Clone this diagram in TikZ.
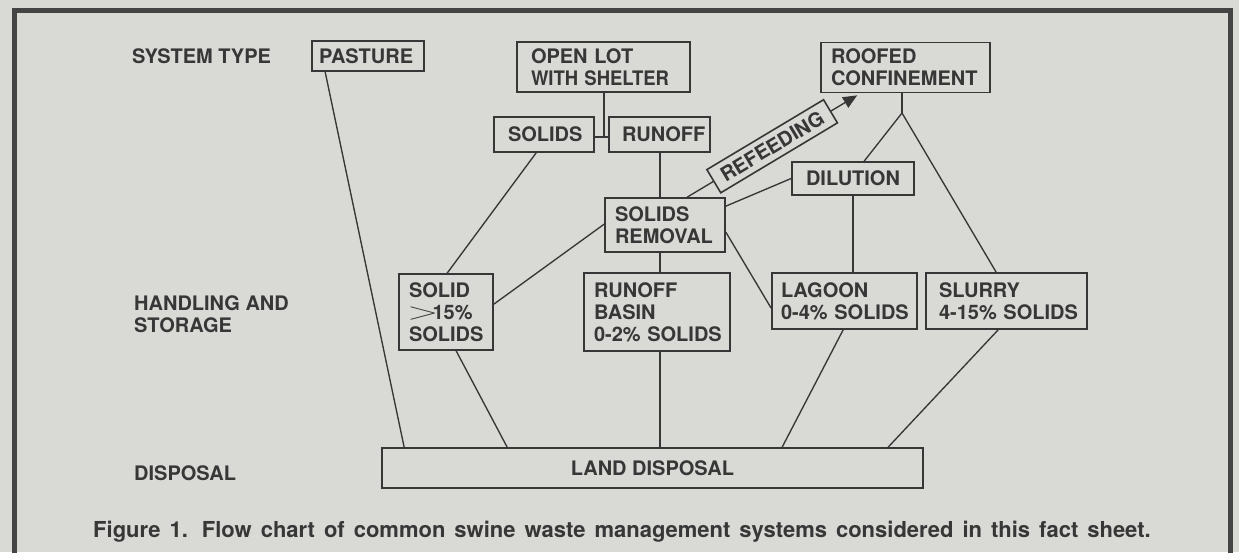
\documentclass[tikz,border=0pt]{standalone}
\usepackage{graphicx}
\usepackage{fontspec}
\setmainfont{TeX Gyre Heros}
\usetikzlibrary{arrows.meta}
\definecolor{bgcol}{RGB}{217,217,214}
\definecolor{ink}{RGB}{55,55,55}
\definecolor{framecol}{RGB}{68,68,68}
\tikzset{
  txt/.style={font=\bfseries\fontsize{20}{22}\selectfont, text=ink},
  bx/.style={txt, draw=ink, line width=1.7pt, align=left, inner ysep=0pt,
    execute at begin node={\hyphenpenalty=10000 \exhyphenpenalty=10000 }},
  lbl/.style={txt, inner sep=0pt, align=left},
  conn/.style={draw=ink, line width=1.35pt},
  refbox/.style={txt, draw=ink, fill=bgcol, line width=1.6pt, minimum width=136pt, minimum height=27pt, inner sep=0pt},
}
\begin{document}
\begin{tikzpicture}[x=1pt,y=-1pt]
\useasboundingbox (0,0) rectangle (1239,552);
\fill[bgcol] (0,0) rectangle (1239,552);
\draw[framecol, line width=5pt] (14.5,570) -- (14.5,10.5) -- (1230.5,10.5) -- (1230.5,570);

% row labels
\node[lbl, anchor=base west] (lsys) at (132,63) {SYSTEM TYPE};
\node[lbl, anchor=north west] (lhand) at (134,295.5) {HANDLING AND\\STORAGE};
\node[lbl, anchor=base west] (ldisp) at (134,480) {DISPOSAL};

% boxes
\node[bx, minimum width=112pt, minimum height=30pt, text width=98pt, inner xsep=7pt] (pasture) at (368,56) {PASTURE};
\node[bx, minimum width=173pt, minimum height=50pt, text width=145pt, inner xsep=14pt] (openlot) at (603.5,67) {OPEN~LOT\\\scalebox{0.925}[1]{WITH~SHELTER}};
\node[bx, minimum width=100pt, minimum height=35pt, text width=72pt, inner xsep=14pt] (solids) at (544,134.5) {SOLIDS};
\node[bx, minimum width=101pt, minimum height=35pt, text width=75pt, inner xsep=13pt] (runoff) at (659.5,134.5) {RUNOFF};
\node[bx, minimum width=169pt, minimum height=50pt, text width=149pt, inner xsep=10pt] (roofed) at (905.5,67.5) {ROOFED\\CONFINEMENT};
\node[bx, minimum width=122pt, minimum height=33pt, text width=94pt, inner xsep=14pt] (dilution) at (853,178.5) {DILUTION};
\node[bx, minimum width=120pt, minimum height=54pt, text width=100pt, inner xsep=10pt] (solrem) at (665,225) {SOLIDS\\REMOVAL};
\node[bx, minimum width=94pt, minimum height=76pt, text width=74pt, inner xsep=10pt] (solid) at (446,312) {SOLID\\\hspace*{-2pt}\scalebox{2.0}[1.15]{$>$}\hspace{-6pt}15\%\\SOLIDS};
\node[bx, minimum width=146pt, minimum height=78pt, text width=126pt, inner xsep=10pt] (basin) at (657,312) {RUNOFF\\BASIN\\0-2\%~SOLIDS};
\node[bx, minimum width=145pt, minimum height=56pt, text width=127pt, inner xsep=9pt] (lagoon) at (844.5,301) {LAGOON\\0-4\%~SOLIDS};
\node[bx, minimum width=161pt, minimum height=56pt, text width=135pt, inner xsep=13pt] (slurry) at (1006.5,301) {SLURRY\\4-15\%~SOLIDS};
\node[bx, align=center, minimum width=541pt, minimum height=40pt, inner xsep=0pt] (land) at (652.5,468) {LAND DISPOSAL};

% connectors
\draw[conn] ([xshift=14pt]pasture.south west) -- ([xshift=23pt]land.north west);
\coordinate (j1) at (604,137);
\draw[conn] (openlot.south -| j1) -- (j1);
\draw[conn] (solids.east |- j1) -- (runoff.west |- j1);
\draw[conn] ([xshift=43pt]solids.south west) -- ([xshift=49pt]solid.north west);
\coordinate (vx) at (660,0);
\draw[conn] (runoff.south -| vx) -- (solrem.north -| vx);
\draw[conn] (solrem.south -| vx) -- (basin.north -| vx);
\draw[conn] (basin.south -| vx) -- (land.north -| vx);
\draw[conn] (dilution.west) -- ([yshift=-9pt]solrem.north east);
\draw[conn, -{Triangle[length=14pt,width=12pt]}] ([xshift=83pt]solrem.north west) -- node[refbox, sloped] (refeed) {REFEEDING} ([xshift=37pt,yshift=-2pt]roofed.south west);
\coordinate (j2) at (902,113);
\draw[conn] (roofed.south -| j2) -- (j2);
\draw[conn] (j2) -- ([xshift=73pt]dilution.north west);
\draw[conn] (j2) -- ([xshift=71pt]slurry.north west);
\coordinate (vd) at (853,0);
\draw[conn] (dilution.south -| vd) -- (lagoon.north -| vd);
\draw[conn] ([yshift=-35pt]solrem.north east) -- ([yshift=-36pt]lagoon.north west);
\draw[conn] ([yshift=-27pt]solrem.north west) -- ([yshift=-31pt]solid.north east);
\draw[conn] ([xshift=58pt]solid.south west) -- ([xshift=126pt]land.north west);
\draw[conn] ([xshift=72pt]lagoon.south west) -- ([xshift=401pt]land.north west);
\draw[conn] ([xshift=73pt]slurry.south west) -- ([xshift=507pt]land.north west);

% caption
\node[lbl, anchor=base west, font=\bfseries\fontsize{22}{26}\selectfont] (cap) at (93,537) {\spaceskip=9pt\relax Figure 1.\hspace{3pt} Flow chart of common swine waste management systems considered in this fact sheet.};
\end{tikzpicture}
\end{document}
